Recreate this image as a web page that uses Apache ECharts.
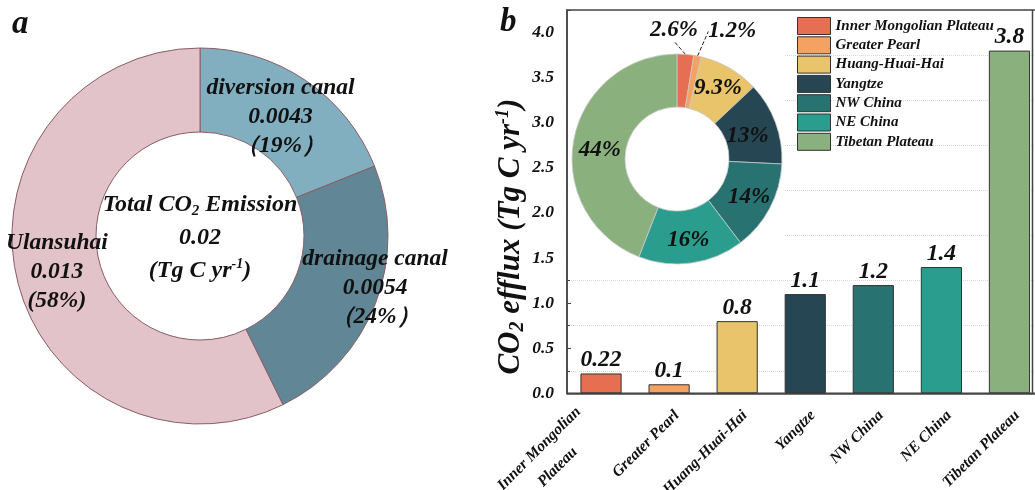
<!DOCTYPE html>
<html>
<head>
<meta charset="utf-8">
<script src="https://cdn.jsdelivr.net/npm/echarts@6/dist/echarts.min.js"></script>
<style>
  html, body { margin: 0; padding: 0; background: #fff; }
  #chart { width: 1035px; height: 490px; }
</style>
</head>
<body>
<div id="chart"></div>
<script>
// Panel a: CO2 emission of the Ulansuhai system (Tg C yr-1)
const canalNames = ['diversion canal', 'drainage canal', 'Ulansuhai'];
const canalValues = [0.0043, 0.0054, 0.013];
const canalShares = ['（19%）', '（24%）', '(58%)'];
const canalTotal = '0.02';

// Panel b: CO2 efflux by region (Tg C yr-1)
const regionNames = ['Inner Mongolian Plateau', 'Greater Pearl', 'Huang-Huai-Hai', 'Yangtze', 'NW China', 'NE China', 'Tibetan Plateau'];
const regionAxisLabels = ['Inner Mongolian\nPlateau', 'Greater Pearl', 'Huang-Huai-Hai', 'Yangtze', 'NW China', 'NE China', 'Tibetan Plateau'];
const effluxValues = [0.22, 0.1, 0.8, 1.1, 1.2, 1.4, 3.8];
const effluxShares = ['2.6%', '1.2%', '9.3%', '13%', '14%', '16%', '44%'];

const canalColors = ['#82AFC0', '#618796', '#E2C3C9'];
const regionColors = ['#E76F51', '#F4A261', '#E9C46A', '#264653', '#287271', '#2A9D8F', '#8AB17D'];

const SERIF = '"Liberation Serif", "Times New Roman", serif';
const ink = '#111';
const bi = { fontFamily: SERIF, fontWeight: 'bold', fontStyle: 'italic', color: ink };
const frame = '#444';

const chart = echarts.init(document.getElementById('chart'), null, { renderer: 'canvas' });

// multi-line category labels: block centred on the tick, later lines centred under the first
const xLabelFormatter = v => {
  const lines = v.split('\n');
  if (lines.length === 1) return '{f|' + v + '}';
  return lines.map((s, i) => (i === 0 ? '{m|' + s + '}' : '{c|' + s + '}')).join('\n');
};
const xCategories = regionAxisLabels.map(v =>
  v.indexOf('\n') >= 0 ? { value: v, textStyle: { verticalAlign: 'middle' } } : v
);

const option = {
  animation: false,
  backgroundColor: '#fff',
  title: [
    { text: 'a', left: 12, top: 8, padding: 0, textStyle: Object.assign({}, bi, { fontSize: 33 }) },
    { text: 'b', left: 500, top: 6, padding: 0, textStyle: Object.assign({}, bi, { fontSize: 33 }) },
    {
      text: '{t|Total CO}{s|2}{t| Emission}\n{t|' + canalTotal + '}\n{t|(Tg C yr}{p|-1}{t|)}',
      left: 200, top: 188, textAlign: 'center', padding: 0,
      textStyle: {
        rich: {
          t: Object.assign({}, bi, { fontSize: 24, lineHeight: 33 }),
          s: Object.assign({}, bi, { fontSize: 15, lineHeight: 33, padding: [13, 0, 0, 0] }),
          p: Object.assign({}, bi, { fontSize: 14, lineHeight: 33, padding: [0, 0, 13, 0] })
        }
      }
    }
  ],
  legend: {
    orient: 'vertical',
    left: 797, top: 17, padding: 0,
    itemWidth: 33, itemHeight: 17, itemGap: 1.3,
    icon: 'rect',
    data: regionNames,
    itemStyle: { borderColor: '#333', borderWidth: 1 },
    textStyle: Object.assign({}, bi, { fontSize: 15, lineHeight: 17 }),
    selectedMode: false
  },
  graphic: [
    // white inset panel behind the composition donut
    { type: 'rect', z: 1, silent: true, shape: { x: 568, y: 11, width: 216, height: 257 }, style: { fill: '#fff' } },
    // right-hand frame line of panel b
    { type: 'line', z: 5, silent: true, shape: { x1: 1032.5, y1: 10, x2: 1032.5, y2: 393.3 }, style: { stroke: frame, lineWidth: 1.5 } }
  ],
  grid: {
    left: 567, right: -8.5, top: 10, bottom: 96.7,
    outerBoundsMode: 'none',
    containLabel: false,
    show: true, borderColor: frame, borderWidth: 1.5, backgroundColor: 'transparent'
  },
  xAxis: [
    {
      type: 'category',
      data: xCategories,
      axisLine: { lineStyle: { color: frame, width: 1.5 } },
      axisTick: { alignWithLabel: true, length: 7, lineStyle: { color: frame, width: 1.5 } },
      axisLabel: {
        rotate: 45, margin: 12, interval: 0, verticalAlign: 'top',
        formatter: xLabelFormatter,
        rich: {
          f: Object.assign({}, bi, { fontSize: 15.5, lineHeight: 22 }),
          m: Object.assign({}, bi, { fontSize: 15.5, lineHeight: 26, padding: [0, 19, 0, 0] }),
          c: Object.assign({}, bi, { fontSize: 15.5, lineHeight: 26, padding: [0, 19, 0, 0], align: 'center' })
        }
      }
    },
    {
      type: 'category',
      data: regionAxisLabels,
      position: 'bottom',
      axisLine: { show: false },
      axisTick: { inside: true, length: 3, lineStyle: { color: frame, width: 1.5 } },
      axisLabel: { show: false }
    }
  ],
  yAxis: {
    type: 'value',
    min: 0, max: 4.25, interval: 0.5,
    name: '{t|CO}{s|2}{t| efflux (Tg C yr}{p|-1}{t|)}',
    nameLocation: 'middle',
    nameGap: 38,
    nameTextStyle: {
      padding: [0, 70, 0, 0],
      rich: {
        t: Object.assign({}, bi, { fontSize: 31, lineHeight: 36 }),
        s: Object.assign({}, bi, { fontSize: 20, lineHeight: 36, padding: [15, 0, 0, 0] }),
        p: Object.assign({}, bi, { fontSize: 18, lineHeight: 36, padding: [0, 0, 15, 0] })
      }
    },
    axisLine: { show: true, lineStyle: { color: frame, width: 1.5 } },
    axisTick: { show: true, inside: true, length: 4, lineStyle: { color: frame, width: 1 } },
    minorTick: { show: true, splitNumber: 2, length: 3, lineStyle: { color: frame, width: 1 } },
    splitLine: { show: false },
    minorSplitLine: { show: true, lineStyle: { color: '#d8d8d8', type: 'dotted', width: 1 } },
    axisLabel: Object.assign({}, bi, {
      fontSize: 17.5, margin: 13,
      formatter: v => (v <= 4 ? v.toFixed(1) : '')
    })
  },
  series: [
    {
      name: 'Ulansuhai system',
      type: 'pie',
      center: [200, 236],
      radius: [104, 188],
      startAngle: 90,
      clockwise: true,
      silent: true,
      itemStyle: { borderColor: '#8A5E66', borderWidth: 1 },
      label: Object.assign({}, bi, {
        show: true, position: 'inside', fontSize: 23.5, lineHeight: 29,
        formatter: p => p.name + '\n' + p.value + '\n' + canalShares[p.dataIndex]
      }),
      labelLayout: p => (p.dataIndex === 1 ? { dx: 36, dy: -2 } : p.dataIndex === 2 ? { dx: 2, dy: 2 } : { dx: -3, dy: 4 }),
      labelLine: { show: false },
      data: canalNames.map((n, i) => ({ name: n, value: canalValues[i], itemStyle: { color: canalColors[i] } }))
    },
    {
      name: 'CO2 efflux',
      type: 'bar',
      barWidth: '60.5%',
      itemStyle: { borderColor: '#333', borderWidth: 1 },
      label: Object.assign({}, bi, { show: true, position: 'top', fontSize: 23.5, distance: 2 }),
      data: effluxValues.map((v, i) => ({ value: v, itemStyle: { color: regionColors[i] } }))
    },
    {
      name: 'Regional share',
      type: 'pie',
      center: [677, 159],
      radius: [52, 105],
      startAngle: 90,
      clockwise: true,
      silent: true,
      z: 3,
      itemStyle: { borderColor: '#c8c8c8', borderWidth: 0.8 },
      label: Object.assign({}, bi, {
        show: true, position: 'inside', fontSize: 23,
        formatter: p => effluxShares[p.dataIndex]
      }),
      labelLine: { show: false },
      labelLayout: p => {
        const r = p.rect;
        if (p.dataIndex === 0) return { x: r.x + r.width / 2 - 11.5, y: r.y - 24, align: 'center', verticalAlign: 'middle' };
        if (p.dataIndex === 1) return { x: r.x + r.width / 2 + 39, y: r.y - 23.5, align: 'center', verticalAlign: 'middle' };
        if (p.dataIndex === 6) return { dx: 3, dy: 6 };
        if (p.dataIndex === 3) return { dx: -6, dy: 5 };
        return {};
      },
      data: regionNames.map((n, i) => {
        const item = { name: n, value: effluxValues[i], itemStyle: { color: regionColors[i] } };
        if (i < 2) {
          item.label = { position: 'outside' };
          item.labelLine = { show: true, length: 14, length2: 0, lineStyle: { color: '#222', type: 'dashed', width: 1 } };
        }
        return item;
      })
    }
  ]
};

chart.setOption(option);
</script>
</body>
</html>
